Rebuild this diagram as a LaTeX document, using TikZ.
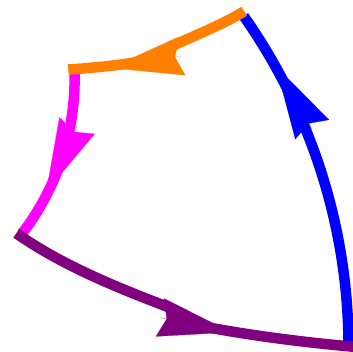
\documentclass[tikz,border=0pt]{standalone}
\usetikzlibrary{arrows.meta}
\definecolor{edgepurple}{RGB}{128,0,128}
\definecolor{edgeorange}{RGB}{255,128,0}
\definecolor{edgemagenta}{RGB}{255,0,255}
\definecolor{edgeblue}{RGB}{0,0,255}
\begin{document}
\begin{tikzpicture}[x=1pt,y=-1pt,
  edge/.style={line width=10.5pt, line cap=butt},
  head/.style={line width=0.2pt, -{Stealth[length=73pt,width=39pt,inset=7pt]}}]
\useasboundingbox (0,0) rectangle (353,352);
% vertices
\coordinate (A) at (348.5,347);
\coordinate (Aend) at (354,346.8);
\coordinate (B) at (244.2,11.3);
\coordinate (C) at (68.3,69.5);
\coordinate (Cm) at (74.45,70);
\coordinate (D) at (16.3,233.3);
% junctions hidden under the heads
\coordinate (Jo1) at (170,47);
\coordinate (Jo2) at (140,61.5);
\coordinate (Jp1) at (168,307);
\coordinate (Jp2) at (205,326.8);
% arrow heads: back and tip
\coordinate (Mb) at (311.7,128.7);
\coordinate (Tb) at (275.9,66.2);
\coordinate (Mo) at (181.0,56.2);
\coordinate (To) at (110,68);
\coordinate (Mm) at (76.65,126.5);
\coordinate (Tm) at (46.2,191.7);
\coordinate (Mp) at (160.9,317.65);
\coordinate (Tp) at (231.3,332.3);
% blue edge
\draw[edge, edgeblue] (A) arc[start angle=0, end angle=-35.13, radius=575];
\draw[head, edgeblue] (Mb) -- (Tb);
% magenta edge
\draw[edge, edgemagenta] (Cm) arc[start angle=-2, end angle=37.5, radius=254];
\draw[head, edgemagenta] (Mm) -- (Tm);
% orange edge
\draw[edge, edgeorange] (B) .. controls (222.9,24.4) and (192.6,36.4) .. (Jo1);
\draw[edge, edgeorange] (Jo2) .. controls (120.4,65.3) and (88.3,68.3) .. (C);
\draw[head, edgeorange] (Mo) -- (To);
% purple edge
\draw[edge, edgepurple] (D) .. controls (62.2,265.4) and (115.7,287) .. (Jp1);
\draw[edge, edgepurple] (Jp2) .. controls (254.2,336.05) and (304.2,342.3) .. (Aend);
\draw[head, edgepurple] (Mp) -- (Tp);
\end{tikzpicture}
\end{document}
